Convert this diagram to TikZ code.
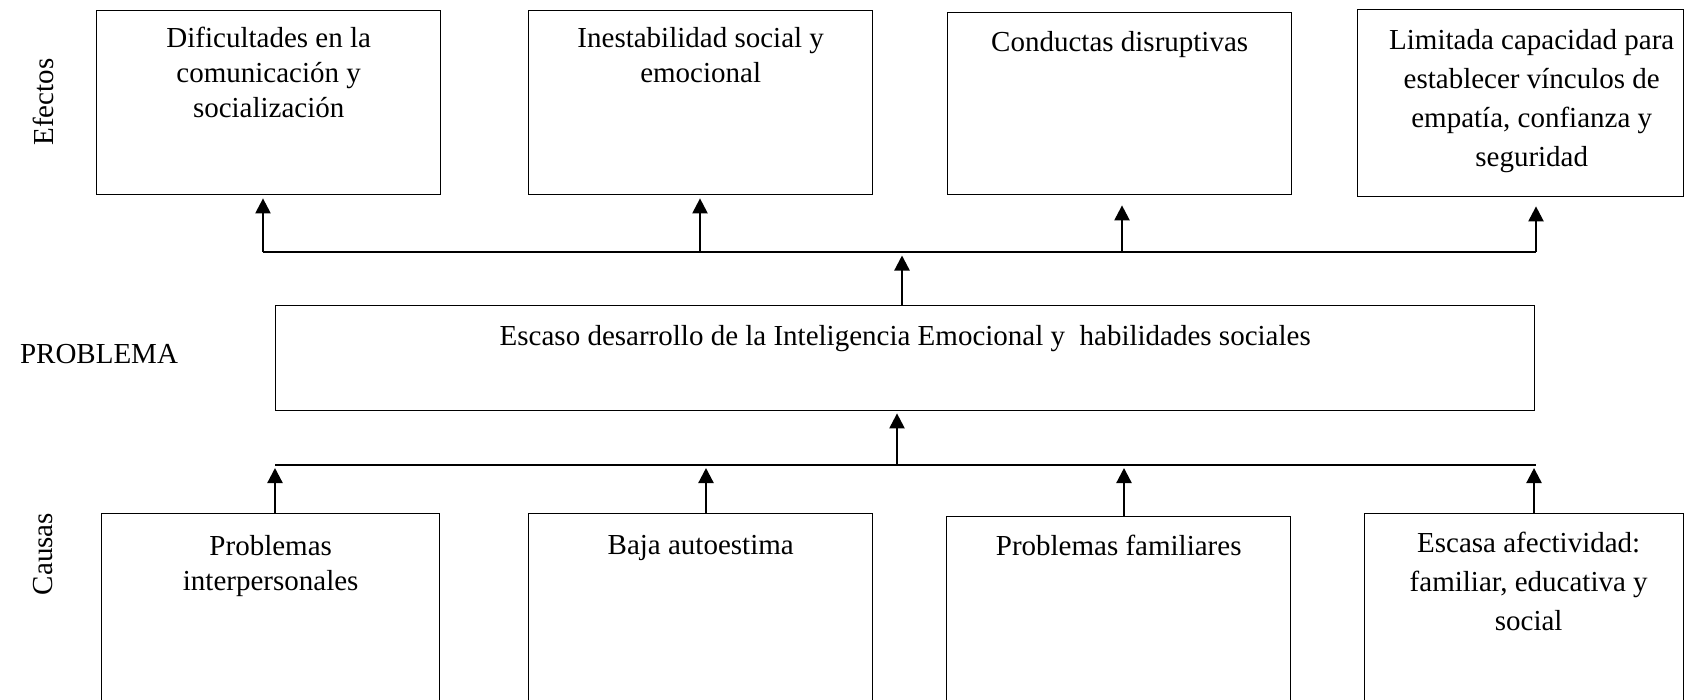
\documentclass[tikz,border=0pt]{standalone}
\usepackage{fontspec}
\setmainfont{Liberation Serif}
\usetikzlibrary{arrows.meta, positioning}

\begin{document}
\begin{tikzpicture}[x=0.4pt, y=-0.4pt,
  box/.style={draw, line width=0.55pt, anchor=north west, inner sep=0pt, minimum width=137.6pt},
  txt/.style={align=center, inner sep=0pt, font=\fontsize{11.6}{14}\selectfont},
  wide/.style={font=\fontsize{11.6}{15.6}\selectfont},
  link/.style={line width=0.9pt},
  up/.style={line width=0.9pt, arrows={-Triangle[length=6pt, width=6pt]}}]
  \useasboundingbox (0,0) rectangle (1684,699);
  \clip (0,0) rectangle (1684,699);
  % efectos
  \node[box, minimum height=73.6pt] (e1) at (96,10) {};
  \node[box, minimum height=73.6pt] (e2) at (528,10) {};
  \node[box, minimum height=72.8pt] (e3) at (947,12) {};
  \node[box, minimum height=74.8pt, minimum width=130.4pt] (e4) at (1357,9) {};
  \node[txt, below=6.7pt of e1.north] (e1t) {Dificultades en la\\comunicación y\\socialización};
  \node[txt, below=6.8pt of e2.north] (e2t) {Inestabilidad social y\\emocional};
  \node[txt, below=7.6pt of e3.north] (e3t) {Conductas disruptivas};
  \node[txt, wide, below=7.8pt of e4.north, xshift=4.4pt] (e4t) {Limitada capacidad para\\establecer vínculos de\\empatía, confianza y\\seguridad};
  % problema
  \node[box, minimum width=503.6pt, minimum height=42pt] (prob) at (275,305) {};
  \node[txt, below=7.9pt of prob.north] (probt) {Escaso desarrollo de la Inteligencia Emocional y \ habilidades sociales};
  % causas
  \node[box, minimum height=100pt, minimum width=135.2pt] (c1) at (101,513) {};
  \node[box, minimum height=100pt] (c2) at (528,513) {};
  \node[box, minimum height=100pt] (c3) at (946,516) {};
  \node[box, minimum height=100pt, minimum width=127.6pt] (c4) at (1364,513) {};
  \node[txt, below=8.6pt of c1.north] (c1t) {Problemas\\interpersonales};
  \node[txt, below=8.6pt of c2.north] (c2t) {Baja autoestima};
  \node[txt, below=7.5pt of c3.north] (c3t) {Problemas familiares};
  \node[txt, wide, below=7.6pt of c4.north, xshift=1.8pt] (c4t) {Escasa afectividad:\\familiar, educativa y\\social};
  % rotulos
  \node[txt, rotate=90] (lef) at (43,102) {Efectos};
  \node[txt] (lpr) at (99,354) {PROBLEMA};
  \node[txt, rotate=90] (lca) at (43,554) {Causas};
  % lineas
  \coordinate (el) at (263,252);
  \coordinate (er) at (1536,252);
  \coordinate (em) at (902,252);
  \coordinate (e2a) at (700,252);
  \coordinate (e3a) at (1122,252);
  \draw[link] (el) -- (er);
  \draw[up, shorten >=1.2pt] (el) -- (e1.south -| el);
  \draw[up, shorten >=1.2pt] (e2a) -- (e2.south -| e2a);
  \draw[up, shorten >=4pt] (e3a) -- (e3.south -| e3a);
  \draw[up, shorten >=3.6pt] (er) -- (e4.south -| er);
  \draw[up, shorten >=1.4pt] (prob.north -| em) -- (em);
  \coordinate (cl) at (275,465);
  \coordinate (cr) at (1536,465);
  \coordinate (cm) at (897,465);
  \coordinate (c2a) at (706,465);
  \coordinate (c3a) at (1124,465);
  \coordinate (c4a) at (1534,465);
  \draw[link] (cl) -- (cr);
  \draw[up, shorten >=1.2pt] (c1.north -| cl) -- (cl);
  \draw[up, shorten >=1.2pt] (c2.north -| c2a) -- (c2a);
  \draw[up, shorten >=1.2pt] (c3.north -| c3a) -- (c3a);
  \draw[up, shorten >=1.2pt] (c4.north -| c4a) -- (c4a);
  \draw[up, shorten >=0.8pt] (cm) -- (prob.south -| cm);
\end{tikzpicture}
\end{document}
